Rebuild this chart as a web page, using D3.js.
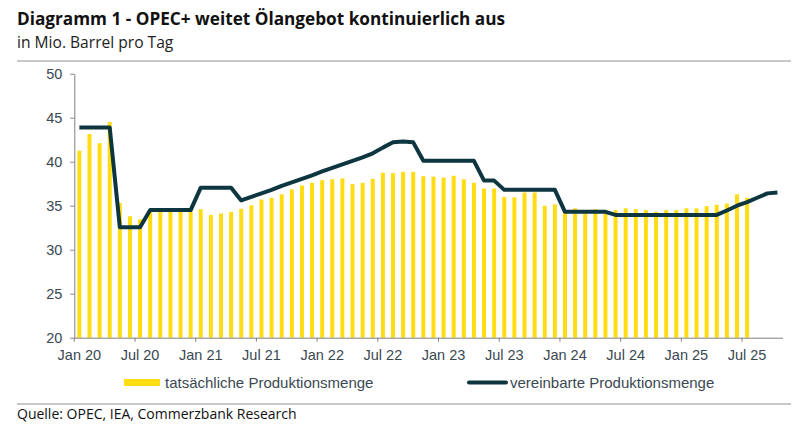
<!DOCTYPE html>
<html>
<head>
<meta charset="utf-8">
<script src="https://cdn.jsdelivr.net/npm/d3@7"></script>
<style>
  body { margin: 0; background: #fff; }
  svg { display: block; }
  .tick text { font-family: "Liberation Sans", Arial, sans-serif; font-size: 14.5px; fill: #3a4852; }
</style>
</head>
<body>
<svg id="chart" width="801" height="432"></svg>
<script>
const
  plotLeft = 74.3, plotRight = 782.5, // plot edges
  plotTop = 73.7, plotBottom = 337.7,
  barWidth = 4;

const startMonth = new Date(2020, 0, 1), endMonth = new Date(2025, 10, 1);
const months = d3.timeMonth.range(startMonth, endMonth); // Jan 20 .. Oct 25

// tatsächliche Produktionsmenge (Jan 20 - Jul 25)
const actual = [
  41.25, 43.15, 42.1, 44.5, 35.3, 33.8, 33.45, 34.3, 34.4, 34.3, 34.3, 34.4,
  34.6, 33.95, 34.1, 34.3, 34.65, 35.05, 35.7, 35.9, 36.3, 36.85, 37.3, 37.6,
  37.9, 38.0, 38.1, 37.45, 37.6, 38.05, 38.75, 38.7, 38.85, 38.85, 38.35, 38.3,
  38.2, 38.4, 38.0, 37.6, 36.95, 36.95, 36.0, 35.95, 36.5, 36.5, 35.0, 35.15,
  34.4, 34.7, 34.5, 34.6, 34.5, 34.5, 34.7, 34.6, 34.5, 34.3, 34.5, 34.5,
  34.7, 34.7, 34.95, 35.1, 35.25, 36.3, 35.9
];

// vereinbarte Produktionsmenge (Jan 20 - Oct 25)
const agreed = [
  43.9, 43.9, 43.9, 43.9, 32.55, 32.55, 32.55, 34.5, 34.5, 34.5, 34.5, 34.5,
  37.05, 37.05, 37.05, 37.05, 35.6, 36.0, 36.4, 36.8, 37.25, 37.65, 38.05, 38.45,
  38.9, 39.3, 39.7, 40.1, 40.5, 40.95, 41.6, 42.2, 42.3, 42.2, 40.1, 40.1,
  40.1, 40.1, 40.1, 40.1, 37.85, 37.85, 36.8, 36.8, 36.8, 36.8, 36.8, 36.8,
  34.3, 34.3, 34.3, 34.3, 34.3, 33.95, 33.95, 33.95, 33.95, 33.95, 33.95, 33.95,
  33.95, 33.95, 33.95, 33.95, 34.45, 35.0, 35.4, 35.9, 36.4, 36.5
];

const yTicks = [20, 25, 30, 35, 40, 45, 50];
const xTickMonths = months.filter(d => d.getMonth() % 6 === 0);
const monthNames = ['Jan', 'Feb', 'Mär', 'Apr', 'Mai', 'Jun', 'Jul', 'Aug', 'Sep', 'Okt', 'Nov', 'Dez'];

const barColor = '#ffdc14', lineColor = '#0e3640', axisColor = '#808080';

const svg = d3.select('#chart');

const x = d3.scaleBand().domain(months).range([plotLeft, plotRight]).padding(0);
const y = d3.scaleLinear().domain([20, 50]).range([plotBottom, plotTop]);
const cx = d => x(d) + x.bandwidth() / 2;

// Header
svg.append('text')
  .attr('x', 17).attr('y', 25)
  .style('font-family', '"Open Sans", sans-serif').style('font-weight', 700).style('font-size', '17.2px')
  .attr('fill', '#111')
  .text('Diagramm 1 - OPEC+ weitet Ölangebot kontinuierlich aus');
svg.append('text')
  .attr('x', 17).attr('y', 48)
  .style('font-family', '"Open Sans", sans-serif').style('font-size', '15.6px')
  .attr('fill', '#222')
  .text('in Mio. Barrel pro Tag');
svg.append('rect').attr('x', 17).attr('y', 60).attr('width', 774).attr('height', 2).attr('fill', '#c8c8c8');

// Bars
svg.append('g')
  .selectAll('rect')
  .data(actual)
  .join('rect')
  .attr('x', (d, i) => cx(months[i]) - barWidth / 2)
  .attr('width', barWidth)
  .attr('y', d => y(d))
  .attr('height', d => y(20) - y(d))
  .attr('fill', barColor);

// Axes
const yAxis = d3.axisLeft(y).tickValues(yTicks).tickSize(4).tickSizeOuter(0).tickPadding(8);
svg.append('g')
  .attr('transform', `translate(${plotLeft},0)`)
  .call(yAxis)
  .call(g => g.selectAll('path, line').attr('stroke', axisColor));

const xAxis = d3.axisBottom(x)
  .tickValues(xTickMonths)
  .tickFormat(d => monthNames[d.getMonth()] + ' ' + String(d.getFullYear()).slice(2))
  .tickSize(4).tickSizeOuter(0).tickPadding(8);
svg.append('g')
  .attr('transform', `translate(0,${plotBottom})`)
  .call(xAxis)
  .call(g => g.selectAll('path, line').attr('stroke', axisColor))
  .call(g => g.selectAll('.tick line').attr('x1', -x.bandwidth() / 2).attr('x2', -x.bandwidth() / 2));

// Agreed production line
const line = d3.line()
  .x((d, i) => cx(months[i]))
  .y(d => y(d));
svg.append('path')
  .datum(agreed)
  .attr('d', line)
  .attr('fill', 'none')
  .attr('stroke', lineColor)
  .attr('stroke-width', 4)
  .attr('stroke-linejoin', 'round');

// Legend
const legend = svg.append('g').style('font-family', '"Liberation Sans", Arial, sans-serif').style('font-size', '15px');
legend.append('rect').attr('x', 124).attr('y', 379).attr('width', 36).attr('height', 7).attr('fill', barColor);
legend.append('text').attr('x', 165).attr('y', 388).attr('fill', '#3a4852').text('tatsächliche Produktionsmenge');
legend.append('line').attr('x1', 469).attr('x2', 506).attr('y1', 382.5).attr('y2', 382.5)
  .attr('stroke', lineColor).attr('stroke-width', 4).attr('stroke-linecap', 'round');
legend.append('text').attr('x', 510).attr('y', 388).attr('fill', '#3a4852').text('vereinbarte Produktionsmenge');

// Footer
svg.append('rect').attr('x', 17).attr('y', 403).attr('width', 774).attr('height', 2).attr('fill', '#c8c8c8');
svg.append('text')
  .attr('x', 17).attr('y', 419)
  .style('font-family', '"Open Sans", sans-serif').style('font-size', '14px')
  .attr('fill', '#111')
  .text('Quelle: OPEC, IEA, Commerzbank Research');
</script>
</body>
</html>
